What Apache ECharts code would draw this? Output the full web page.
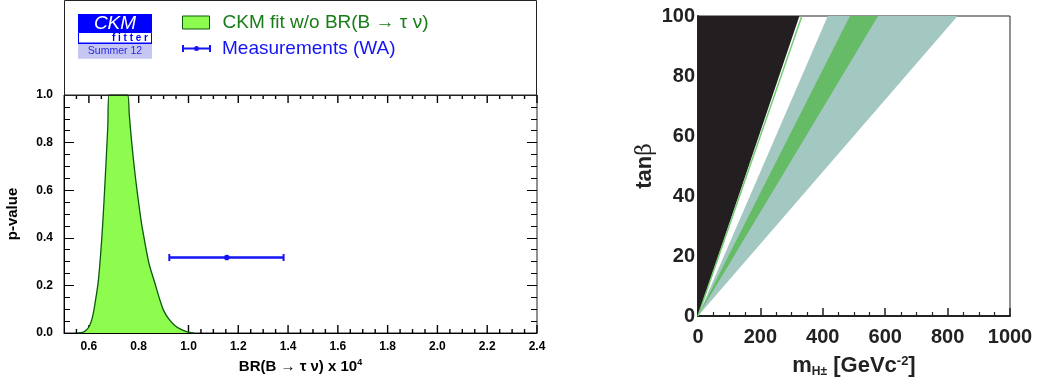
<!DOCTYPE html>
<html>
<head>
<meta charset="utf-8">
<script src="https://cdn.jsdelivr.net/npm/echarts@6/dist/echarts.min.js"></script>
<style>
  html, body { margin: 0; padding: 0; background: #fff; }
  #chart { width: 1037px; height: 387px; }
</style>
</head>
<body>
<div id="chart"></div>
<script>
// left panel: p-value of the CKM fit vs BR(B -> tau nu)
var fitBR   = [0.555, 0.58, 0.60, 0.615, 0.627, 0.638, 0.647, 0.655, 0.662, 0.669, 0.676, 0.681, 0.755, 0.762, 0.772, 0.784, 0.797, 0.81, 0.825, 0.842, 0.865, 0.885, 0.90, 0.92, 0.945, 0.97, 0.995, 1.02];
var fitPval = [0, 0.005, 0.025, 0.07, 0.14, 0.22, 0.33, 0.45, 0.58, 0.72, 0.87, 1.0, 1.0, 0.92, 0.80, 0.68, 0.57, 0.47, 0.38, 0.29, 0.21, 0.14, 0.095, 0.06, 0.032, 0.015, 0.005, 0];
// world average measurement
var measBR   = [1.154];
var measLow  = [0.923];
var measHigh = [1.382];
var measPval = [0.317];
// x ticks of the left panel
var brTicks  = [0.6, 0.8, 1.0, 1.2, 1.4, 1.6, 1.8, 2.0, 2.2, 2.4];
var brMinor  = [0.55, 0.65, 0.7, 0.75, 0.85, 0.9, 0.95, 1.05, 1.1, 1.15, 1.25, 1.3, 1.35, 1.45, 1.5, 1.55,
                1.65, 1.7, 1.75, 1.85, 1.9, 1.95, 2.05, 2.1, 2.15, 2.25, 2.3, 2.35];

// right panel: band edges (m_H+ at tanb = 0 and tanb = 100)
var tanbEnds  = [0, 100];
var axisEdge  = [0, 0];
var blackEdge = [0, 325];
var thinGreen = [0, 333];
var tealIn    = [0, 416];
var greenIn   = [0, 487];
var greenOut  = [0, 577];
var tealOut   = [0, 832];

var FONT = 'Liberation Sans, Arial, sans-serif';
var fitName = 'CKM fit w/o BR(B \u2192 \u03c4 \u03bd)';
var measName = 'Measurements (WA)';

//多边形区域
function band(leftArr, rightArr, color) {
  var data = [];
  for (var i = 0; i < tanbEnds.length; i++) data.push([leftArr[i], tanbEnds[i]]);
  return {
    type: 'custom',
    xAxisIndex: 1,
    yAxisIndex: 2,
    data: data,
    silent: true,
    renderItem: function (params, api) {
      if (params.dataIndexInside !== 0) return;
      var pts = [];
      for (var i = 0; i < tanbEnds.length; i++) pts.push(api.coord([leftArr[i], tanbEnds[i]]));
      for (var j = tanbEnds.length - 1; j >= 0; j--) pts.push(api.coord([rightArr[j], tanbEnds[j]]));
      return { type: 'polygon', shape: { points: pts }, style: { fill: color } };
    }
  };
}

var fitData = [];
for (var i = 0; i < fitBR.length; i++) fitData.push([fitBR[i], fitPval[i]]);
var measData = [];
for (var k = 0; k < measBR.length; k++) measData.push([measBR[k], measLow[k], measHigh[k], measPval[k]]);
var thinData = [];
for (var t = 0; t < tanbEnds.length; t++) thinData.push([thinGreen[t], tanbEnds[t]]);
// tick marks: [value, p at bottom, p at top, tick length]
var tickData = [];
for (var a = 0; a < brTicks.length; a++) tickData.push([brTicks[a], 0, 1, 8]);
for (var b = 0; b < brMinor.length; b++) tickData.push([brMinor[b], 0, 1, 4]);

var tickLbl = { fontFamily: FONT, fontWeight: 'bold', fontSize: 12, color: '#000' };
var bigLbl = { fontFamily: FONT, fontWeight: 'bold', fontSize: 20, color: '#222' };

function pAxis(pos) {
  return {
    type: 'value', gridIndex: 0, position: pos, min: 0, max: 1, interval: 0.2,
    axisLine: { show: pos === 'left', lineStyle: { color: '#000', width: 1 } },
    splitLine: { show: false },
    axisTick: { show: true, inside: true, length: 10, lineStyle: { color: '#000' } },
    minorTick: { show: true, splitNumber: 4, length: 6, lineStyle: { color: '#000' } },
    axisLabel: pos === 'left'
      ? Object.assign({ margin: 11, formatter: function (v) { return v.toFixed(1); } }, tickLbl)
      : { show: false }
  };
}

var yMain = pAxis('left');
yMain.name = 'p-value';
yMain.nameLocation = 'middle';
yMain.nameGap = 44;
yMain.nameTextStyle = { fontFamily: FONT, fontWeight: 'bold', fontSize: 15, color: '#000' };

var option = {
  animation: false,
  backgroundColor: '#fff',
  grid: [
    { left: 64, top: 95, right: 500, bottom: 54, show: true, borderColor: '#222', borderWidth: 1 },
    { left: 698, top: 16, right: 27, bottom: 71, show: true, borderColor: '#222', borderWidth: 1 }
  ],
  legend: [
    {
      left: 182, top: 13, padding: 0, itemWidth: 27, itemHeight: 13, selectedMode: false,
      textStyle: { fontFamily: FONT, fontSize: 19, padding: [0, 0, 0, 8] },
      data: [{ name: fitName, icon: 'rect',
        itemStyle: { color: '#8efc4f', borderColor: '#0b5a0b', borderWidth: 1 },
        textStyle: { color: '#187c18' } }]
    },
    {
      left: 182, top: 39, padding: 0, itemWidth: 29, itemHeight: 7, selectedMode: false,
      textStyle: { fontFamily: FONT, fontSize: 19, padding: [0, 0, 0, 6] },
      data: [{ name: measName,
        icon: 'path://M0,0h2v2.4h25v-2.4h2v7h-2v-2.4h-25v2.4h-2z M17,3.5a2.5,2.5 0 1,1 -5,0a2.5,2.5 0 1,1 5,0z',
        itemStyle: { color: '#1414f5' },
        textStyle: { color: '#1414f5' } }]
    }
  ],
  xAxis: [
    {
      type: 'value', gridIndex: 0, position: 'bottom', min: 0.5, max: 2.4,
      name: '{b|BR(B \u2192 \u03c4 \u03bd) x 10}{sup|4}',
      nameLocation: 'middle', nameGap: 25,
      nameTextStyle: { rich: {
        b: { fontFamily: FONT, fontWeight: 'bold', fontSize: 15, color: '#000' },
        sup: { fontFamily: FONT, fontWeight: 'bold', fontSize: 9, color: '#000', padding: [0, 0, 8, 0] }
      } },
      axisLine: { show: true, onZero: false, lineStyle: { color: '#000', width: 1 } },
      splitLine: { show: false },
      axisTick: { show: false },
      axisLabel: Object.assign({ margin: 8, customValues: brTicks,
        formatter: function (v) { return v.toFixed(1); } }, tickLbl)
    },
    {
      type: 'value', gridIndex: 1, min: 0, max: 1000, interval: 200,
      name: '{b|m}{sub|H\u00b1}{b| [GeVc}{sup|-2}{b|]}',
      nameLocation: 'middle', nameGap: 38,
      nameTextStyle: { rich: {
        b: { fontFamily: FONT, fontWeight: 'bold', fontSize: 22, color: '#222' },
        sub: { fontFamily: FONT, fontWeight: 'bold', fontSize: 12, color: '#222', padding: [12, 0, 0, 0] },
        sup: { fontFamily: FONT, fontWeight: 'bold', fontSize: 13, color: '#222', padding: [0, 0, 10, 0] }
      } },
      axisLine: { show: true, lineStyle: { color: '#222', width: 2 } },
      splitLine: { show: false },
      axisTick: { show: true, inside: true, length: 8, lineStyle: { color: '#222', width: 1.5 } },
      minorTick: { show: true, splitNumber: 4, length: 4, lineStyle: { color: '#222', width: 1.2 } },
      axisLabel: Object.assign({ margin: 11, formatter: function (v) { return String(v); } }, bigLbl)
    }
  ],
  yAxis: [
    yMain,
    pAxis('right'),
    {
      type: 'value', gridIndex: 1, min: 0, max: 100, interval: 20,
      name: '{b|tan}{g|\u03b2}', nameLocation: 'middle', nameGap: 42,
      nameTextStyle: { rich: {
        b: { fontFamily: FONT, fontWeight: 'bold', fontSize: 22, color: '#222' },
        g: { fontFamily: 'DejaVu Serif, serif', fontSize: 22, color: '#222' }
      } },
      axisLine: { show: true, lineStyle: { color: '#222', width: 2 } },
      splitLine: { show: false },
      axisTick: { show: false },
      axisLabel: Object.assign({ margin: 3 }, bigLbl)
    }
  ],
  graphic: [
    // frame around the legend area
    { type: 'rect', z: 10, shape: { x: 64.5, y: 0.5, width: 472, height: 95 },
      style: { fill: 'none', stroke: '#222', lineWidth: 1 } },
    // CKMfitter logo
    { type: 'rect', shape: { x: 78, y: 14, width: 74, height: 18.5 }, style: { fill: '#0000ff' } },
    { type: 'text', style: { x: 115, y: 23.5, text: 'CKM', fill: '#fff', font: 'italic 19px ' + FONT,
      textAlign: 'center', textVerticalAlign: 'middle' } },
    { type: 'rect', shape: { x: 78.5, y: 32.5, width: 73, height: 11 },
      style: { fill: '#fff', stroke: '#0000ff', lineWidth: 1 } },
    { type: 'rect', shape: { x: 78, y: 42.5, width: 74, height: 1.8 }, style: { fill: '#0000ff' } },
    { type: 'text', style: { x: 148, y: 38, text: 'f i t t e r', fill: '#0000ff', font: 'bold 10px ' + FONT,
      textAlign: 'right', textVerticalAlign: 'middle' } },
    { type: 'rect', shape: { x: 78, y: 44.3, width: 74, height: 14.5 }, style: { fill: '#c6c6f2' } },
    { type: 'text', style: { x: 115, y: 51.5, text: 'Summer 12', fill: '#2a2ae0', font: '10.5px ' + FONT,
      textAlign: 'center', textVerticalAlign: 'middle' } }
  ],
  series: [
    {
      name: fitName,
      type: 'line',
      xAxisIndex: 0, yAxisIndex: 0,
      data: fitData,
      smooth: 0.3,
      symbol: 'none',
      lineStyle: { color: '#0b5a0b', width: 1.3 },
      itemStyle: { color: '#8efc4f' },
      areaStyle: { color: '#8efc4f', opacity: 1 }
    },
    {
      name: measName,
      type: 'custom',
      xAxisIndex: 0, yAxisIndex: 0,
      data: measData,
      itemStyle: { color: '#1414f5' },
      renderItem: function (params, api) {
        var c = api.coord([api.value(0), api.value(3)]);
        var lo = api.coord([api.value(1), api.value(3)]);
        var hi = api.coord([api.value(2), api.value(3)]);
        var col = '#1414f5';
        return { type: 'group', children: [
          { type: 'line', shape: { x1: lo[0], y1: lo[1], x2: hi[0], y2: hi[1] }, style: { stroke: col, lineWidth: 2.5 } },
          { type: 'line', shape: { x1: lo[0], y1: lo[1] - 3.5, x2: lo[0], y2: lo[1] + 3.5 }, style: { stroke: col, lineWidth: 2 } },
          { type: 'line', shape: { x1: hi[0], y1: hi[1] - 3.5, x2: hi[0], y2: hi[1] + 3.5 }, style: { stroke: col, lineWidth: 2 } },
          { type: 'circle', shape: { cx: c[0], cy: c[1], r: 2.8 }, style: { fill: col } }
        ] };
      }
    },
    {
      // x ticks on the bottom and top edges of the left frame
      name: 'xticks',
      type: 'custom',
      xAxisIndex: 0, yAxisIndex: 0,
      data: tickData,
      silent: true,
      itemStyle: { color: '#000' },
      renderItem: function (params, api) {
        var len = api.value(3);
        var bot = api.coord([api.value(0), api.value(1)]);
        var top = api.coord([api.value(0), api.value(2)]);
        var col = '#000';
        return { type: 'group', children: [
          { type: 'line', shape: { x1: bot[0], y1: bot[1], x2: bot[0], y2: bot[1] - len }, style: { stroke: col, lineWidth: 1.4 } },
          { type: 'line', shape: { x1: top[0], y1: top[1], x2: top[0], y2: top[1] + len }, style: { stroke: col, lineWidth: 1.4 } }
        ] };
      }
    },
    band(axisEdge, blackEdge, '#231f20'),
    band(tealIn, tealOut, '#a3c7c1'),
    band(greenIn, greenOut, '#66bb66'),
    {
      type: 'line',
      xAxisIndex: 1, yAxisIndex: 2,
      data: thinData,
      symbol: 'none',
      silent: true,
      lineStyle: { color: '#74cc74', width: 1.5 }
    }
  ]
};

var myChart = echarts.init(document.getElementById('chart'));
myChart.setOption(option);
</script>
</body>
</html>
